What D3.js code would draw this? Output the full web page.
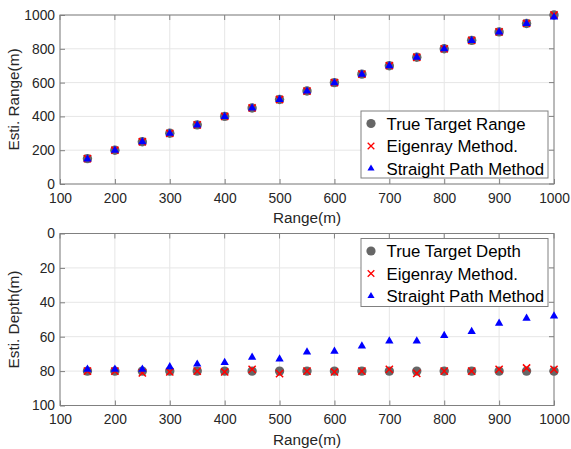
<!doctype html>
<html>
<head>
<meta charset="UTF-8">
<title>Range and depth estimates</title>
<script src="https://d3js.org/d3.v7.min.js"></script>
<style>
  body { margin: 0; background: #fff; }
  text { font-family: "Liberation Sans", Arial, sans-serif; }
</style>
</head>
<body>
<script>
// data
var ranges = [150, 200, 250, 300, 350, 400, 450, 500, 550, 600, 650, 700, 750, 800, 850, 900, 950, 1000];

var trueRange     = [150, 200, 250, 300, 350, 400, 450, 500, 550, 600, 650, 700, 750, 800, 850, 900, 950, 1000];
var eigenRange    = [150, 200, 250, 300, 350, 400, 450, 500, 550, 600, 650, 700, 750, 800, 850, 900, 950, 1000];
var straightRange = [148, 199, 249, 299, 349, 399, 449, 499, 549, 599, 649, 699, 749, 799, 849, 899, 949, 987];

var trueDepth     = [80, 80, 80, 80, 80, 80, 80, 80, 80, 80, 80, 80, 80, 80, 80, 80, 80, 80];
var eigenDepth    = [80, 80, 81, 80.5, 80, 80.5, 79, 81.5, 80, 80.5, 80, 79, 81.3, 80, 80, 79, 78.2, 79];
var straightDepth = [79, 79, 79, 77.5, 76, 75, 72, 73, 69, 68.5, 65.5, 62.5, 62.5, 59.3, 57, 52.2, 49.3, 48];

var xTicks = [100, 200, 300, 400, 500, 600, 700, 800, 900, 1000];
var rangeTicks = [0, 200, 400, 600, 800, 1000];
var depthTicks = [0, 20, 40, 60, 80, 100];

var rangeLegend = ["True Target Range", "Eigenray Method.", "Straight Path Method"];
var depthLegend = ["True Target Depth", "Eigenray Method.", "Straight Path Method"];

var W = 571, H = 449;
var left = 60, right = 554;

var svg = d3.select("body").append("svg")
    .attr("width", W)
    .attr("height", H);

var x = d3.scaleLinear().domain([100, 1000]).range([left, right]);

function panel(top, bottom, yDomain, yTicks, yLabel, series, legendNames, legendBox) {
    var y = d3.scaleLinear().domain(yDomain).range([bottom, top]);
    var g = svg.append("g");

    // grid
    g.selectAll("line.gx").data(xTicks).enter().append("line")
        .attr("x1", function(d){ return x(d); })
        .attr("x2", function(d){ return x(d); })
        .attr("y1", top).attr("y2", bottom)
        .attr("stroke", "#e6e6e6").attr("stroke-width", 1);
    g.selectAll("line.gy").data(yTicks).enter().append("line")
        .attr("y1", function(d){ return y(d); })
        .attr("y2", function(d){ return y(d); })
        .attr("x1", left).attr("x2", right)
        .attr("stroke", "#e6e6e6").attr("stroke-width", 1);

    // axes
    var xa = g.append("g").attr("transform", "translate(0," + bottom + ")")
        .call(d3.axisBottom(x).tickValues(xTicks).tickFormat(d3.format("d"))
              .tickSizeInner(-5).tickSizeOuter(0).tickPadding(9));
    var ya = g.append("g").attr("transform", "translate(" + left + ",0)")
        .call(d3.axisLeft(y).tickValues(yTicks).tickFormat(d3.format("d"))
              .tickSizeInner(-5).tickSizeOuter(0).tickPadding(5));
    [xa, ya].forEach(function(a){
        a.select(".domain").remove();
        a.selectAll(".tick line").attr("stroke", "#808080");
        a.selectAll(".tick text").attr("fill", "#262626").style("font-size", "13.8px");
    });
    // top/right ticks
    g.selectAll("line.tt").data(xTicks).enter().append("line")
        .attr("x1", function(d){ return x(d); }).attr("x2", function(d){ return x(d); })
        .attr("y1", top).attr("y2", top + 5).attr("stroke", "#808080");
    g.selectAll("line.tr").data(yTicks).enter().append("line")
        .attr("y1", function(d){ return y(d); }).attr("y2", function(d){ return y(d); })
        .attr("x1", right).attr("x2", right - 5).attr("stroke", "#808080");

    g.append("rect")
        .attr("x", left).attr("y", top)
        .attr("width", right - left).attr("height", bottom - top)
        .attr("fill", "none").attr("stroke", "#808080").attr("stroke-width", 1);

    // labels
    g.append("text")
        .attr("x", (left + right) / 2).attr("y", bottom + 39)
        .attr("text-anchor", "middle").attr("fill", "#262626")
        .style("font-size", "15.3px").text("Range(m)");
    g.append("text")
        .attr("transform", "translate(19," + ((top + bottom) / 2) + ") rotate(-90)")
        .attr("text-anchor", "middle").attr("fill", "#262626")
        .style("font-size", "15.3px").text(yLabel);

    // marks
    var pts = function(vals){ return ranges.map(function(r, i){ return [r, vals[i]]; }); };

    g.selectAll("circle.t").data(pts(series[0])).enter().append("circle")
        .attr("cx", function(d){ return x(d[0]); })
        .attr("cy", function(d){ return y(d[1]); })
        .attr("r", 4.7).attr("fill", "#666666");

    g.selectAll("path.e").data(pts(series[1])).enter().append("path")
        .attr("transform", function(d){ return "translate(" + x(d[0]) + "," + y(d[1]) + ")"; })
        .attr("d", "M-3.6,-3.6L3.6,3.6M-3.6,3.6L3.6,-3.6")
        .attr("stroke", "#ff0000").attr("stroke-width", 1.5).attr("fill", "none");

    var tri = d3.symbol().type(d3.symbolTriangle).size(30);
    g.selectAll("path.s").data(pts(series[2])).enter().append("path")
        .attr("transform", function(d){ return "translate(" + x(d[0]) + "," + y(d[1]) + ")"; })
        .attr("d", tri).attr("fill", "#0000ff");

    // legend
    var lg = g.append("g");
    lg.append("rect")
        .attr("x", legendBox[0]).attr("y", legendBox[1])
        .attr("width", legendBox[2]).attr("height", legendBox[3])
        .attr("fill", "#fff").attr("stroke", "#808080");
    var rows = lg.selectAll("g.row").data(legendNames).enter().append("g")
        .attr("transform", function(d, i){ return "translate(" + (legendBox[0] + 10) + "," + (legendBox[1] + 12.5 + i * 22.5) + ")"; });
    rows.append("text")
        .attr("x", 15.5).attr("y", 0).attr("dy", "0.36em")
        .attr("fill", "#000").style("font-size", "16.8px")
        .text(function(d){ return d; });
    rows.filter(function(d, i){ return i === 0; }).append("circle")
        .attr("r", 4.6).attr("fill", "#666666");
    rows.filter(function(d, i){ return i === 1; }).append("path")
        .attr("d", "M-3.3,-3.3L3.3,3.3M-3.3,3.3L3.3,-3.3")
        .attr("stroke", "#ff0000").attr("stroke-width", 1.3);
    rows.filter(function(d, i){ return i === 2; }).append("path")
        .attr("d", d3.symbol().type(d3.symbolTriangle).size(22)).attr("fill", "#0000ff");
}

panel(15, 184, [0, 1000], rangeTicks, "Esti. Range(m)",
      [trueRange, eigenRange, straightRange], rangeLegend, [361, 111, 187, 67]);
panel(233.5, 405.5, [100, 0], depthTicks, "Esti. Depth(m)",
      [trueDepth, eigenDepth, straightDepth], depthLegend, [361, 238.5, 187, 68]);
</script>
</body>
</html>
